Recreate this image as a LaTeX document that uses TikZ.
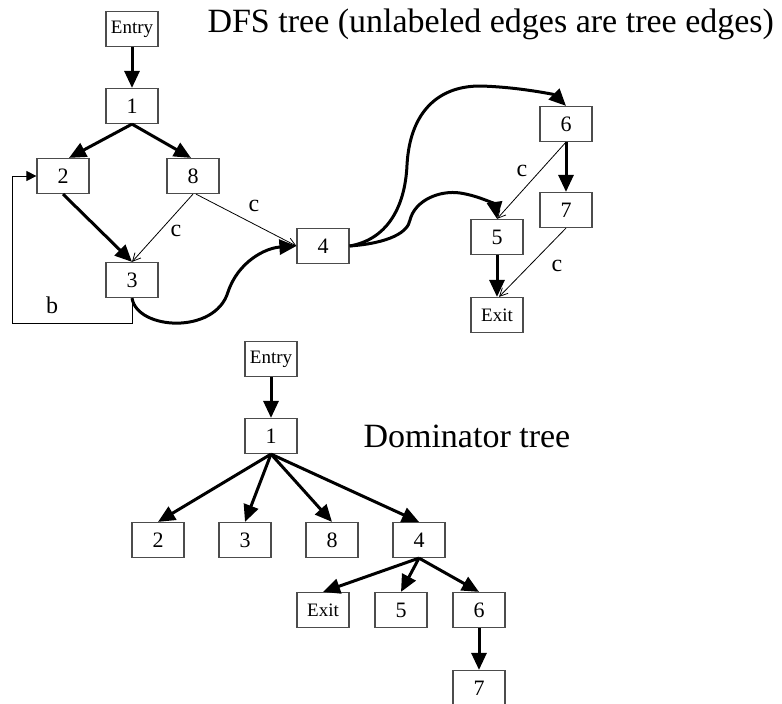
\documentclass[tikz,border=0pt]{standalone}
\usepackage{fontspec}
\setmainfont{Liberation Serif}
\usetikzlibrary{arrows.meta}

\begin{document}
\begin{tikzpicture}[x=1pt, y=-1pt,
    block/.style={draw=black!70, line width=1.2pt, minimum width=52pt, minimum height=35pt,
        inner sep=0pt, font=\fontsize{22}{24}\selectfont},
    word/.style={block, font=\fontsize{19}{21}\selectfont},
    tree/.style={-{Triangle[length=17pt, width=15pt]}, line width=3pt},
    cross/.style={-{Straight Barb[length=8pt, width=8pt]}, line width=0.8pt},
    lbl/.style={font=\fontsize{24}{26}\selectfont},
    title/.style={anchor=base west, font=\fontsize{34}{36}\selectfont}]
    \useasboundingbox (0,0) rectangle (782,704);

    % DFS tree
    \node[word] (dentry) at (132,29) {Entry};
    \node[word] (dexit) at (497,315) {Exit};
    \foreach \name/\x/\y in {1/132/106, 2/63/176, 8/193/176, 3/132/280, 4/323/246,
        6/566/124, 7/566/210, 5/497/237} {
        \node[block] (d\name) at (\x,\y) {\name};
    }
    \node[title] (dfstitle) at (204,32) {DFS tree (unlabeled edges are tree edges)};

    \draw[tree] (dentry) -- (d1);
    \draw[tree] (d1.south) -- ([xshift=6pt]d2.north);
    \draw[tree] (d1.south) -- ([xshift=-2pt]d8.north);
    \draw[tree] (d2.south) -- (d3.north);
    \draw[tree] (d6) -- (d7);
    \draw[tree] (d5) -- (dexit);
    \draw[tree] (d3.south) .. controls (137,330) and (215,335) .. (228,292)
        .. controls (238,262) and (265,248) .. (d4.west);
    \draw[tree] (d4.east) .. controls (385,240) and (405,210) .. (407,165)
        .. controls (410,110) and (440,86) .. (480,86)
        .. controls (520,87) and (555,95) .. (d6.north);
    \draw[tree] (d4.east) .. controls (390,243) and (408,232) .. (410,220)
        .. controls (415,200) and (440,190) .. (460,193)
        .. controls (480,196) and (495,205) .. (d5.north);

    \draw[cross] (d8.south) -- (d3.north);
    \draw[cross] ([xshift=3pt]d8.south) -- (d4.west);
    \draw[cross] (d6.south) -- (d5.north);
    \draw[cross] (d7.south) -- ([xshift=2pt]dexit.north);
    \node[lbl] (c83) at (176,231) {c};
    \node[lbl] (c84) at (254,206) {c};
    \node[lbl] (c65) at (522,171) {c};
    \node[lbl] (c7x) at (557,266) {c};

    \coordinate (bcorner) at (12,323);
    \draw[-{Triangle[length=10pt, width=10pt]}, line width=0.8pt] (d3.south) |- (bcorner) |- (d2.west);
    \node[lbl] (b32) at (52,305) {b};

    % Dominator tree
    \node[word] (tentry) at (271,359) {Entry};
    \node[word] (texit) at (323,610) {Exit};
    \foreach \name/\x/\y in {1/271/436, 2/158/540, 3/245/540, 8/332/540, 4/419/540,
        5/401/610, 6/479/610, 7/479/688} {
        \node[block] (t\name) at (\x,\y) {\name};
    }
    \node[title] (domtitle) at (360,447) {Dominator tree};

    \draw[tree] (tentry) -- (t1);
    \foreach \child in {2, 3, 8, 4} {
        \draw[tree] (t1.south) -- (t\child.north);
    }
    \foreach \child in {exit, 5, 6} {
        \draw[tree] (t4.south) -- (t\child.north);
    }
    \draw[tree] (t6) -- (t7);
\end{tikzpicture}
\end{document}
